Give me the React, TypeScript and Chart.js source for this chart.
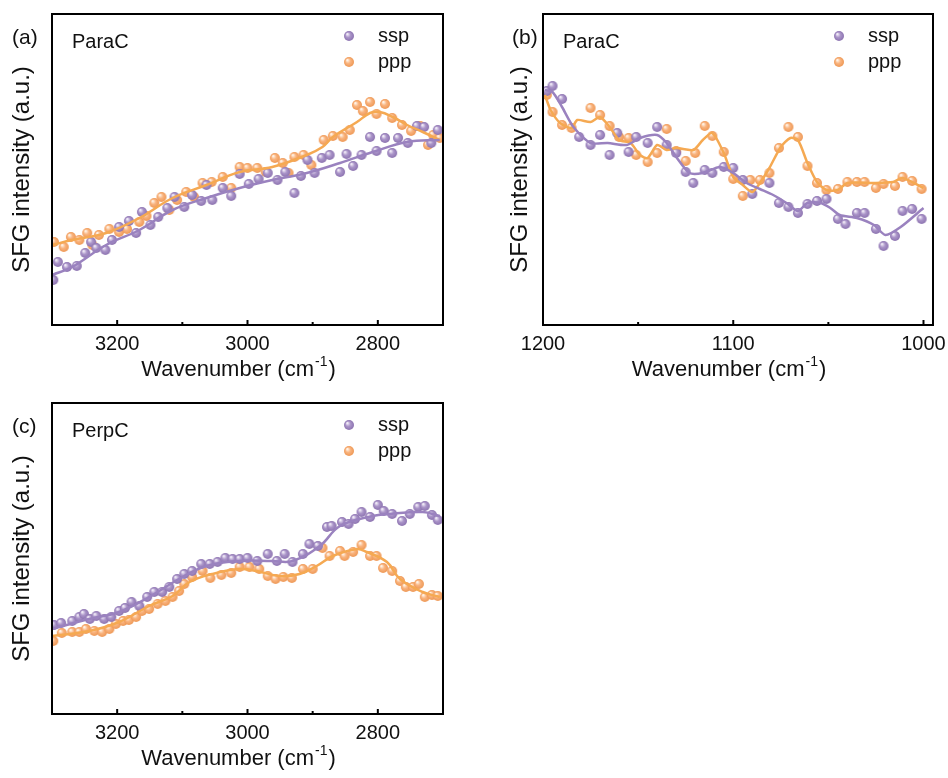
import React, { useEffect, useRef } from 'react';
import { Chart, registerables } from 'chart.js';
Chart.register(...registerables);

type P = [number, number][];

// ---------- Panel (a): ParaC, C-H region ----------
const A_SSP: P = [[3298,45],[3291,63],[3277,58],[3262,59],[3249,72],[3240,83],[3232,77],[3218,75],[3208,85],[3197,98],[3182,104],[3171,92],[3162,113],[3149,100],[3137,108],[3123,117],[3112,128],[3097,118],[3085,130],[3071,124],[3063,140],[3054,125],[3038,137],[3025,129],[3012,151],[2998,141],[2983,146],[2969,152],[2954,145],[2942,153],[2928,132],[2918,149],[2908,165],[2897,152],[2886,167],[2874,170],[2858,153],[2848,171],[2838,159],[2825,170],[2812,188],[2802,174],[2789,187],[2778,172],[2769,187],[2754,182],[2740,199],[2729,198],[2718,182],[2708,195]];
const A_PPP: P = [[3297,83],[3282,78],[3271,88],[3258,85],[3246,92],[3238,80],[3228,90],[3212,96],[3197,93],[3185,96],[3166,103],[3155,109],[3143,122],[3132,128],[3120,115],[3108,125],[3094,133],[3082,128],[3069,142],[3055,143],[3038,148],[3025,137],[3012,158],[3000,157],[2985,157],[2972,153],[2958,167],[2946,162],[2937,152],[2928,168],[2914,170],[2902,160],[2883,185],[2869,189],[2854,188],[2843,195],[2832,220],[2823,214],[2812,223],[2802,211],[2789,221],[2778,207],[2763,200],[2749,194],[2735,199],[2723,180],[2715,190],[2705,187]];
const A_SSP_FIT: P = [[3300,50],[3269,58],[3217,80],[3166,95],[3115,115],[3063,127],[3012,137],[2962,145],[2909,152],[2858,162],[2808,173],[2755,183],[2705,185]];
const A_PPP_FIT: P = [[3300,80],[3269,85],[3217,92],[3166,107],[3115,127],[3063,140],[3012,153],[2962,158],[2909,170],[2885,178],[2869,188],[2832,203],[2812,212],[2797,213],[2777,208],[2755,200],[2731,193],[2705,185]];

// ---------- Panel (b): ParaC, fingerprint region ----------
const B_SSP: P = [[1198,234],[1195,239],[1190,226],[1181,188],[1175,180],[1170,190],[1165,170],[1161,192],[1155,173],[1151,188],[1145,182],[1140,198],[1135,180],[1130,172],[1125,153],[1121,142],[1115,155],[1111,152],[1105,158],[1100,157],[1095,145],[1090,131],[1081,142],[1076,122],[1071,118],[1066,112],[1061,121],[1056,124],[1051,126],[1045,106],[1041,101],[1035,112],[1031,112],[1025,96],[1021,79],[1015,89],[1011,114],[1006,116],[1001,106]];
const B_PPP: P = [[1198,230],[1195,213],[1190,200],[1185,197],[1175,217],[1170,210],[1165,199],[1160,188],[1155,187],[1151,170],[1145,163],[1140,172],[1135,196],[1130,174],[1125,164],[1120,172],[1115,199],[1111,189],[1105,173],[1100,146],[1095,129],[1091,145],[1086,145],[1081,152],[1076,177],[1071,198],[1066,188],[1061,159],[1056,142],[1051,135],[1045,136],[1040,143],[1035,143],[1031,143],[1025,137],[1021,141],[1015,139],[1011,148],[1006,144],[1001,136]];
const B_SSP_FIT: P = [[1199,235],[1195,233],[1190,218],[1184,198],[1175,182],[1166,182],[1156,180],[1149,187],[1140,190],[1135,182],[1130,168],[1123,152],[1116,152],[1107,158],[1100,152],[1093,142],[1086,136],[1079,130],[1072,122],[1066,114],[1061,122],[1054,122],[1049,117],[1044,110],[1035,107],[1026,100],[1020,90],[1012,98],[1000,117]];
const B_PPP_FIT: P = [[1199,230],[1196,215],[1191,202],[1185,197],[1182,205],[1175,203],[1170,208],[1165,198],[1160,185],[1154,182],[1149,170],[1145,167],[1140,180],[1135,175],[1130,177],[1121,175],[1116,185],[1111,192],[1105,172],[1100,148],[1095,140],[1090,133],[1086,142],[1081,157],[1075,178],[1070,187],[1066,185],[1061,162],[1056,143],[1051,135],[1045,135],[1040,142],[1026,142],[1016,143],[1011,147],[1000,137]];

// ---------- Panel (c): PerpC, C-H region ----------
const C_SSP: P = [[3297,89],[3286,91],[3269,93],[3258,97],[3251,100],[3242,95],[3232,98],[3220,95],[3209,97],[3197,103],[3188,106],[3178,112],[3166,108],[3154,117],[3143,122],[3131,122],[3120,127],[3108,135],[3097,140],[3085,143],[3071,150],[3058,150],[3046,152],[3034,156],[3023,155],[3012,155],[3000,156],[2985,153],[2969,160],[2955,153],[2943,160],[2931,152],[2915,160],[2905,170],[2892,168],[2878,187],[2871,188],[2855,192],[2845,190],[2835,195],[2825,202],[2812,197],[2800,209],[2791,203],[2778,200],[2763,193],[2751,200],[2738,207],[2728,208],[2717,199],[2708,194]];
const C_PPP: P = [[3298,73],[3285,81],[3269,82],[3258,82],[3248,85],[3235,83],[3223,82],[3212,85],[3202,90],[3191,93],[3182,94],[3171,97],[3162,103],[3151,105],[3138,110],[3126,113],[3115,117],[3105,123],[3097,130],[3085,137],[3069,143],[3057,136],[3040,139],[3025,141],[3012,147],[2997,147],[2982,145],[2969,138],[2957,135],[2945,137],[2932,136],[2915,145],[2900,145],[2885,166],[2874,158],[2858,163],[2851,158],[2838,162],[2825,169],[2812,158],[2802,158],[2792,146],[2778,143],[2766,133],[2757,127],[2746,127],[2737,130],[2728,117],[2717,119],[2708,118]];
const C_SSP_FIT: P = [[3300,85],[3243,95],[3197,102],[3151,117],[3105,135],[3063,148],[3012,153],[2962,153],[2931,153],[2889,168],[2858,188],[2808,198],[2782,200],[2731,202],[2705,198]];
const C_PPP_FIT: P = [[3300,78],[3243,83],[3197,92],[3151,108],[3115,118],[3089,132],[3054,140],[3012,145],[2986,143],[2951,138],[2920,140],[2894,148],[2869,158],[2832,165],[2817,162],[2786,152],[2766,135],[2731,122],[2705,117]];

const CH_LABELS = [3200, 3000, 2800];
const FP_LABELS = [1200, 1100, 1000];
const LEGEND = ['ssp', 'ppp'];
const PANEL_LABELS = ['(a)', '(b)', '(c)'];
const SAMPLES = ['ParaC', 'ParaC', 'PerpC'];
const X_TITLE = ['Wavenumber (cm', '-1', ')'];
const Y_TITLE = 'SFG intensity (a.u.)';

const FONT = "'Liberation Sans', Arial, Helvetica, sans-serif";
const PURPLE_LINE = '#9a82bf';
const ORANGE_LINE = '#f5a952';
const W = 474;
const H = 389;

function makeBall(light: string, base: string, dark: string, r = 5): HTMLCanvasElement {
  const c = document.createElement('canvas');
  const s = r * 2 + 2;
  c.width = s; c.height = s;
  const g = c.getContext('2d')!;
  const cx = s / 2, cy = s / 2;
  const grad = g.createRadialGradient(cx - r * 0.35, cy - r * 0.4, r * 0.1, cx, cy, r);
  grad.addColorStop(0, light);
  grad.addColorStop(0.45, base);
  grad.addColorStop(1, dark);
  g.fillStyle = grad;
  g.beginPath(); g.arc(cx, cy, r, 0, Math.PI * 2); g.fill();
  return c;
}

const toXY = (p: P) => p.map(([x, y]) => ({ x, y }));

const framePlugin = {
  id: 'frame',
  afterDraw(chart: any, _args: any, o: any) {
    const { ctx, chartArea: a } = chart;
    const xs = chart.scales.x;
    ctx.save();
    ctx.strokeStyle = '#000';
    ctx.lineWidth = 2;
    ctx.strokeRect(a.left, a.top, a.right - a.left, a.bottom - a.top);
    for (const t of xs.ticks) {
      const px = xs.getPixelForValue(t.value);
      const len = o.major.includes(t.value) ? 5 : 3;
      ctx.beginPath(); ctx.moveTo(px, a.bottom); ctx.lineTo(px, a.bottom - len); ctx.stroke();
    }
    ctx.fillStyle = '#111';
    ctx.textBaseline = 'middle';
    ctx.textAlign = 'left';
    ctx.font = `21px ${FONT}`;
    ctx.fillText(o.label, o.labelX, o.labelY);
    ctx.font = `20px ${FONT}`;
    ctx.fillText(o.name, a.left + 20, a.top + 28);
    LEGEND.forEach((txt, i) => {
      const y = a.top + 22 + i * 26;
      const img = o.balls[i];
      ctx.drawImage(img, a.right - 94 - img.width / 2, y - img.height / 2);
      ctx.fillText(txt, a.right - 65, y);
    });
    // x title with superscript
    const big = `22px ${FONT}`, small = `14px ${FONT}`;
    ctx.font = big; const w1 = ctx.measureText(X_TITLE[0]).width; const w3 = ctx.measureText(X_TITLE[2]).width;
    ctx.font = small; const w2 = ctx.measureText(X_TITLE[1]).width;
    const total = w1 + w2 + w3 + 2;
    let x = (a.left + a.right) / 2 - 9 - total / 2;
    const ty = a.bottom + 45;
    ctx.font = big; ctx.fillText(X_TITLE[0], x, ty); x += w1 + 1;
    ctx.font = small; ctx.fillText(X_TITLE[1], x, ty - 8); x += w2 + 1;
    ctx.font = big; ctx.fillText(X_TITLE[2], x, ty);
    // y title
    ctx.save();
    ctx.translate(o.yTitleX, (a.top + a.bottom) / 2);
    ctx.rotate(-Math.PI / 2);
    ctx.textAlign = 'center';
    ctx.font = `24px ${FONT}`;
    ctx.fillText(Y_TITLE, 0, 0);
    ctx.restore();
    ctx.restore();
  },
};

interface PanelCfg {
  idx: number; ssp: P; ppp: P; sspFit: P; pppFit: P;
  xmin: number; xmax: number; step: number; major: number[];
  padLeft: number; yWidth: number; padRight: number; yTitleX: number; labelX: number; tension: number;
}

function buildConfig(p: PanelCfg): any {
  const ballS = makeBall('#f1ebf7', '#ab95c9', '#8c73b0');
  const ballP = makeBall('#fff3e6', '#f9b47f', '#ee9855');
  return {
    type: 'scatter',
    data: {
      datasets: [
        { label: 'ssp fit', data: toXY(p.sspFit), showLine: true, borderColor: PURPLE_LINE, borderWidth: 2.5, pointRadius: 0, tension: p.tension, order: 1 },
        { label: 'ppp fit', data: toXY(p.pppFit), showLine: true, borderColor: ORANGE_LINE, borderWidth: 2.5, pointRadius: 0, tension: p.tension, order: 1 },
        { label: 'ssp', data: toXY(p.ssp), pointStyle: ballS, pointRadius: 5, order: 2 },
        { label: 'ppp', data: toXY(p.ppp), pointStyle: ballP, pointRadius: 5, order: 3 },
      ],
    },
    options: {
      animation: false,
      responsive: false,
      events: [],
      layout: { padding: { left: p.padLeft, right: p.padRight, top: 14, bottom: 0 } },
      plugins: {
        legend: { display: false },
        tooltip: { enabled: false },
        frame: {
          major: p.major, label: PANEL_LABELS[p.idx], labelX: p.labelX, labelY: 38,
          name: SAMPLES[p.idx], balls: [ballS, ballP], yTitleX: p.yTitleX,
        },
      },
      scales: {
        x: {
          type: 'linear', min: p.xmin, max: p.xmax, reverse: true,
          afterBuildTicks: (s: any) => {
            const out: { value: number }[] = [];
            for (let v = Math.ceil(p.xmin / p.step) * p.step; v <= p.xmax; v += p.step) out.push({ value: v });
            s.ticks = out.reverse();
          },
          afterFit: (s: any) => { s.height = H - 325; s.paddingLeft = 0; s.paddingRight = 0; },
          ticks: {
            autoSkip: false, maxRotation: 0, padding: 7, color: '#111',
            font: { family: FONT, size: 20 },
            callback: (v: any) => (p.major.includes(Number(v)) ? String(v) : ''),
          },
          grid: { display: false, drawTicks: false },
          border: { display: false },
        },
        y: {
          min: 0, max: 311,
          afterFit: (s: any) => { s.width = p.yWidth; },
          ticks: { display: false },
          grid: { display: false, drawTicks: false },
          border: { display: false },
        },
      },
    },
    plugins: [framePlugin],
  };
}

function Panel({ left, top, cfg }: { left: number; top: number; cfg: PanelCfg }) {
  const ref = useRef<HTMLCanvasElement>(null);
  useEffect(() => {
    const chart = new Chart(ref.current!, buildConfig(cfg));
    return () => chart.destroy();
  }, []);
  return <canvas ref={ref} width={W} height={H} style={{ position: 'absolute', left, top, width: W, height: H }} />;
}

const PANELS: { left: number; top: number; cfg: PanelCfg }[] = [
  { left: 0, top: 0, cfg: { idx: 0, ssp: A_SSP, ppp: A_PPP, sspFit: A_SSP_FIT, pppFit: A_PPP_FIT, xmin: 2700, xmax: 3300, step: 100, major: CH_LABELS, padLeft: 0, yWidth: 52, padRight: W - 443, yTitleX: 22, labelX: 12, tension: 0.4 } },
  { left: W, top: 0, cfg: { idx: 1, ssp: B_SSP, ppp: B_PPP, sspFit: B_SSP_FIT, pppFit: B_PPP_FIT, xmin: 995, xmax: 1200, step: 50, major: FP_LABELS, padLeft: 0, yWidth: 69, padRight: W - 459, yTitleX: 46, labelX: 38, tension: 0.25 } },
  { left: 0, top: H, cfg: { idx: 2, ssp: C_SSP, ppp: C_PPP, sspFit: C_SSP_FIT, pppFit: C_PPP_FIT, xmin: 2700, xmax: 3300, step: 100, major: CH_LABELS, padLeft: 0, yWidth: 52, padRight: W - 443, yTitleX: 22, labelX: 12, tension: 0.4 } },
];

export default function App() {
  return (
    <div style={{ position: 'absolute', left: 0, top: 0, width: 948, height: 778, background: '#fff' }}>
      {PANELS.map((p, i) => <Panel key={i} left={p.left} top={p.top} cfg={p.cfg} />)}
    </div>
  );
}
